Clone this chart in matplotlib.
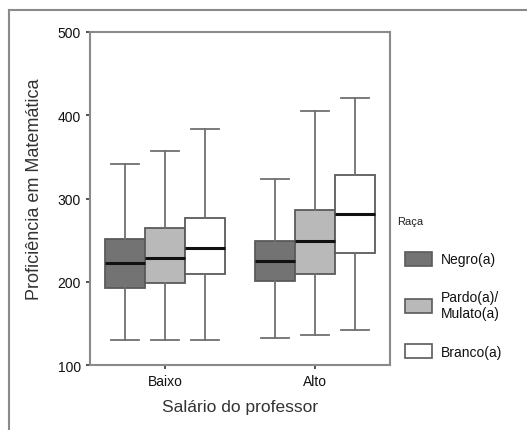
import matplotlib
matplotlib.use("Agg")
import matplotlib.pyplot as plt
from matplotlib.patches import Patch
from matplotlib.lines import Line2D
from matplotlib import font_manager

# ---- data ----
categories = ["Baixo", "Alto"]
races = ["Negro(a)", "Pardo(a)/\nMulato(a)", "Branco(a)"]
legend_title = "Raça"
whislo = [[130, 130, 130], [132, 136, 142]]
q1 = [[193, 199, 209], [201, 209, 234]]
med = [[222, 229, 241], [225, 249, 281]]
q3 = [[251, 264, 277], [249, 286, 328]]
whishi = [[341, 357, 383], [324, 405, 421]]
yticks = [100, 200, 300, 400, 500]

colors = ["#737373", "#b9b9b9", "#ffffff"]

names = [f.name for f in font_manager.fontManager.ttflist]
fam = ["Liberation Sans Narrow", "DejaVu Sans"] if "Liberation Sans Narrow" in names else ["Liberation Sans", "DejaVu Sans"]
plt.rcParams["font.family"] = fam

fig = plt.figure(figsize=(5.27, 4.31), dpi=100)
# outer frame
fig.add_artist(Line2D([9/527, 1.0], [1-11/431, 1-11/431], color="#8a8a8a", lw=1.5))
fig.add_artist(Line2D([9/527, 9/527], [0, 1-11/431], color="#8a8a8a", lw=1.5))

ax = fig.add_axes([90/527, 1-366/431, 300/527, 333/431])

width = 0.267
offsets = [-width, 0, width]
for ci, cat in enumerate(categories):
    for ri in range(len(races)):
        st = dict(whislo=whislo[ci][ri], q1=q1[ci][ri], med=med[ci][ri],
                  q3=q3[ci][ri], whishi=whishi[ci][ri], fliers=[])
        ax.bxp([st], positions=[ci + offsets[ri]], widths=width,
               showfliers=False, patch_artist=True,
               boxprops=dict(facecolor=colors[ri], edgecolor="#5a5a5a", linewidth=1.3),
               whiskerprops=dict(color="#707070", linewidth=1.3),
               capprops=dict(color="#707070", linewidth=1.3),
               medianprops=dict(color="#111111", linewidth=2.2),
               capwidths=width * 0.72, manage_ticks=False)

ax.set_xlim(-0.5, 1.5)
ax.set_ylim(100, 500)
ax.set_xticks(range(len(categories)))
ax.set_xticklabels(categories)
ax.set_yticks(yticks)
for s in ax.spines.values():
    s.set_color("#8a8a8a")
    s.set_linewidth(1.5)
ax.tick_params(axis="both", length=3, width=1.2, color="#333333", labelsize=10, labelcolor="#111111")
ax.set_ylabel("Proficiência em Matemática", fontsize=13, color="#333333", labelpad=5)
ax.yaxis.set_label_coords(-0.155, 0.53)
ax.set_xlabel("Salário do professor", fontsize=12.5, color="#333333", labelpad=8)

fig.text(397/527, 1-222/431, legend_title, fontsize=8, color="#222222", va="center", ha="left")
handles = [Patch(facecolor=c, edgecolor="#5a5a5a", linewidth=1.2) for c in colors]
leg = fig.legend(handles, races, loc="upper left", bbox_to_anchor=(392/527, 1-240/431),
                 frameon=False, fontsize=10,
                 handlelength=2.0, handleheight=1.2, labelspacing=1.7, handletextpad=0.6)
for t in leg.get_texts():
    t.set_color("#111111")

fig.savefig("out.png", dpi=100)
